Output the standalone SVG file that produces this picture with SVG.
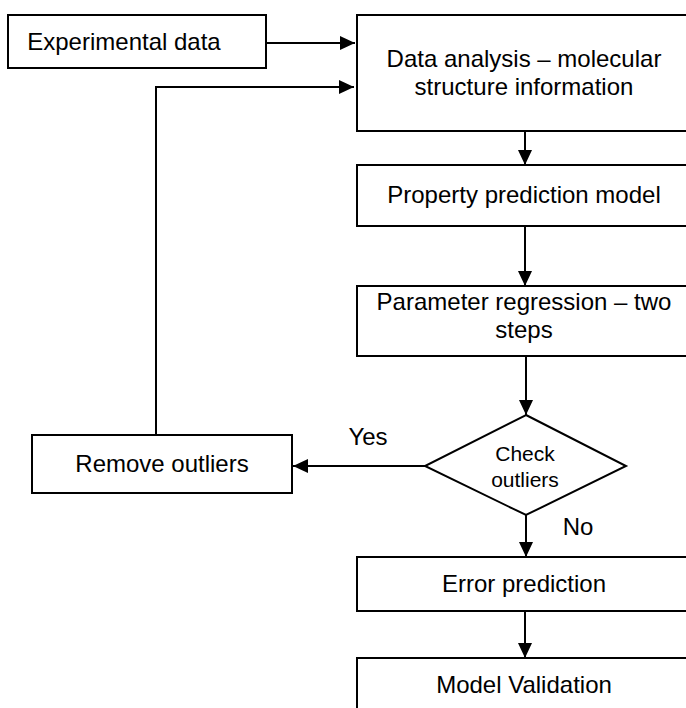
<svg xmlns="http://www.w3.org/2000/svg" width="686" height="708" viewBox="0 0 686 708">
<style>
  .box { fill: #fff; stroke: #000; stroke-width: 2; }
  .t { font-family: "Liberation Sans", Arial, sans-serif; font-size: 24px; fill: #000; text-anchor: middle; }
  .ts { font-family: "Liberation Sans", Arial, sans-serif; font-size: 21px; fill: #000; text-anchor: middle; }
  .c { fill: none; stroke: #000; stroke-width: 2; }
</style>
<defs>
  <marker id="arr" markerUnits="userSpaceOnUse" markerWidth="16" markerHeight="14" refX="15" refY="7" orient="auto">
    <path d="M0,0 L15,7 L0,14 Z" fill="#000"/>
  </marker>
</defs>
<rect width="686" height="708" fill="#fff"/>
<g id="connectors">
  <line class="c" x1="266" y1="43" x2="355" y2="43" marker-end="url(#arr)"/>
  <polyline class="c" points="156,435 156,87 354,87" marker-end="url(#arr)"/>
  <line class="c" x1="525" y1="131" x2="525" y2="165" marker-end="url(#arr)"/>
  <line class="c" x1="525" y1="226" x2="525" y2="286" marker-end="url(#arr)"/>
  <line class="c" x1="526" y1="356" x2="526" y2="415" marker-end="url(#arr)"/>
  <line class="c" x1="425" y1="466" x2="293" y2="466" marker-end="url(#arr)"/>
  <line class="c" x1="526" y1="515" x2="526" y2="557" marker-end="url(#arr)"/>
  <line class="c" x1="525" y1="611" x2="525" y2="658" marker-end="url(#arr)"/>
  <text class="t" x="368" y="445">Yes</text>
  <text class="t" x="578" y="535">No</text>
</g>
<g id="experimental">
  <rect class="box" x="8" y="15" width="258" height="53"/>
  <text class="t" x="124" y="50">Experimental data</text>
</g>
<g id="analysis">
  <rect class="box" x="357" y="15" width="334" height="116"/>
  <text class="t" x="524" y="67">Data analysis – molecular</text>
  <text class="t" x="524" y="95">structure information</text>
</g>
<g id="property">
  <rect class="box" x="357" y="165" width="334" height="61"/>
  <text class="t" x="524" y="203">Property prediction model</text>
</g>
<g id="regression">
  <rect class="box" x="357" y="286" width="334" height="70"/>
  <text class="t" x="524" y="310">Parameter regression – two</text>
  <text class="t" x="524" y="338">steps</text>
</g>
<g id="check">
  <polygon class="box" points="526,415 626,466 526,515 425,466"/>
  <text class="ts" x="525" y="461">Check</text>
  <text class="ts" x="525" y="487">outliers</text>
</g>
<g id="remove">
  <rect class="box" x="32" y="435" width="260" height="58"/>
  <text class="t" x="162" y="472">Remove outliers</text>
</g>
<g id="error">
  <rect class="box" x="357" y="557" width="334" height="54"/>
  <text class="t" x="524" y="592">Error prediction</text>
</g>
<g id="validation">
  <rect class="box" x="357" y="658" width="334" height="60"/>
  <text class="t" x="524" y="693">Model Validation</text>
</g>
</svg>
